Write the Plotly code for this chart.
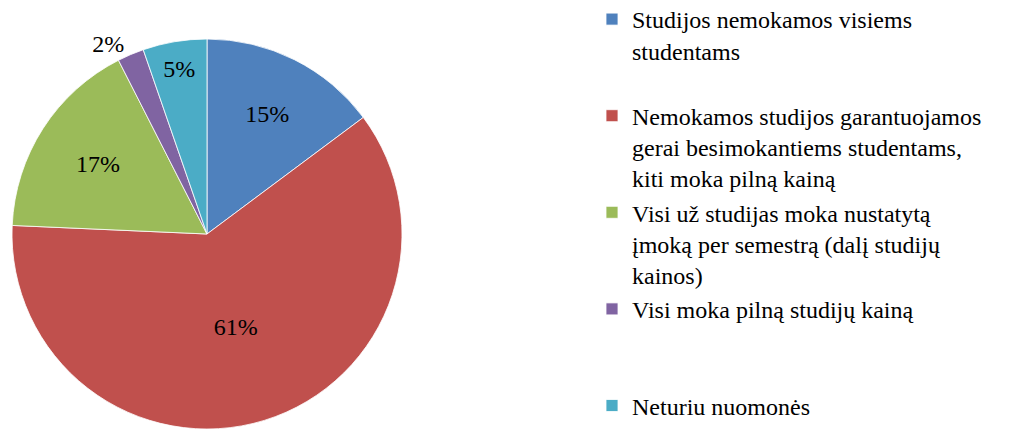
import plotly.graph_objects as go

categories = [
    "Studijos nemokamos visiems<br>studentams<br> ",
    "Nemokamos studijos garantuojamos<br>gerai besimokantiems studentams,<br>kiti moka pilną kainą",
    "Visi už studijas moka nustatytą<br>įmoką per semestrą (dalį studijų<br>kainos)",
    "Visi moka pilną studijų kainą<br> <br> ",
    "Neturiu nuomonės<br> ",
]
values = [14.8, 60.9, 16.8, 2.2, 5.3]
colors = ["#4F81BD", "#C0504D", "#9BBB59", "#8064A2", "#4BACC6"]
text_positions = ["inside", "inside", "inside", "outside", "inside"]

FONT = "Liberation Serif, Times New Roman, serif"

fig = go.Figure(
    go.Pie(
        labels=categories,
        values=values,
        sort=False,
        direction="clockwise",
        rotation=0,
        marker=dict(colors=colors, line=dict(color="white", width=0.8)),
        texttemplate="%{percent:.0%}",
        textposition=text_positions,
        insidetextorientation="horizontal",
        textfont=dict(family=FONT, size=24, color="black"),
        domain=dict(x=[12 / 1019, 402 / 1019], y=[0, 390 / 429]),
        hoverinfo="label+percent",
    )
)

legend = dict(
    x=592 / 1019,
    y=1 + 3 / 429,
    xanchor="left",
    yanchor="top",
    valign="top",
    font=dict(family=FONT, size=24, color="black"),
    bgcolor="rgba(0,0,0,0)",
    borderwidth=0,
    tracegroupgap=0,
)

fig.update_layout(
    width=1019,
    height=429,
    margin=dict(l=0, r=0, t=0, b=0, autoexpand=False),
    paper_bgcolor="white",
    plot_bgcolor="white",
    showlegend=True,
    legend=legend,
    font=dict(family=FONT, color="black"),
)

try:
    fig.update_layout(legend_maxheight=1000)
except Exception:
    fig.update_layout(legend_font_size=23.5)

fig.write_html(
    "out.html",
    config={"displayModeBar": False},
    post_script="document.body.style.margin='0';document.body.style.overflow='hidden';",
)
